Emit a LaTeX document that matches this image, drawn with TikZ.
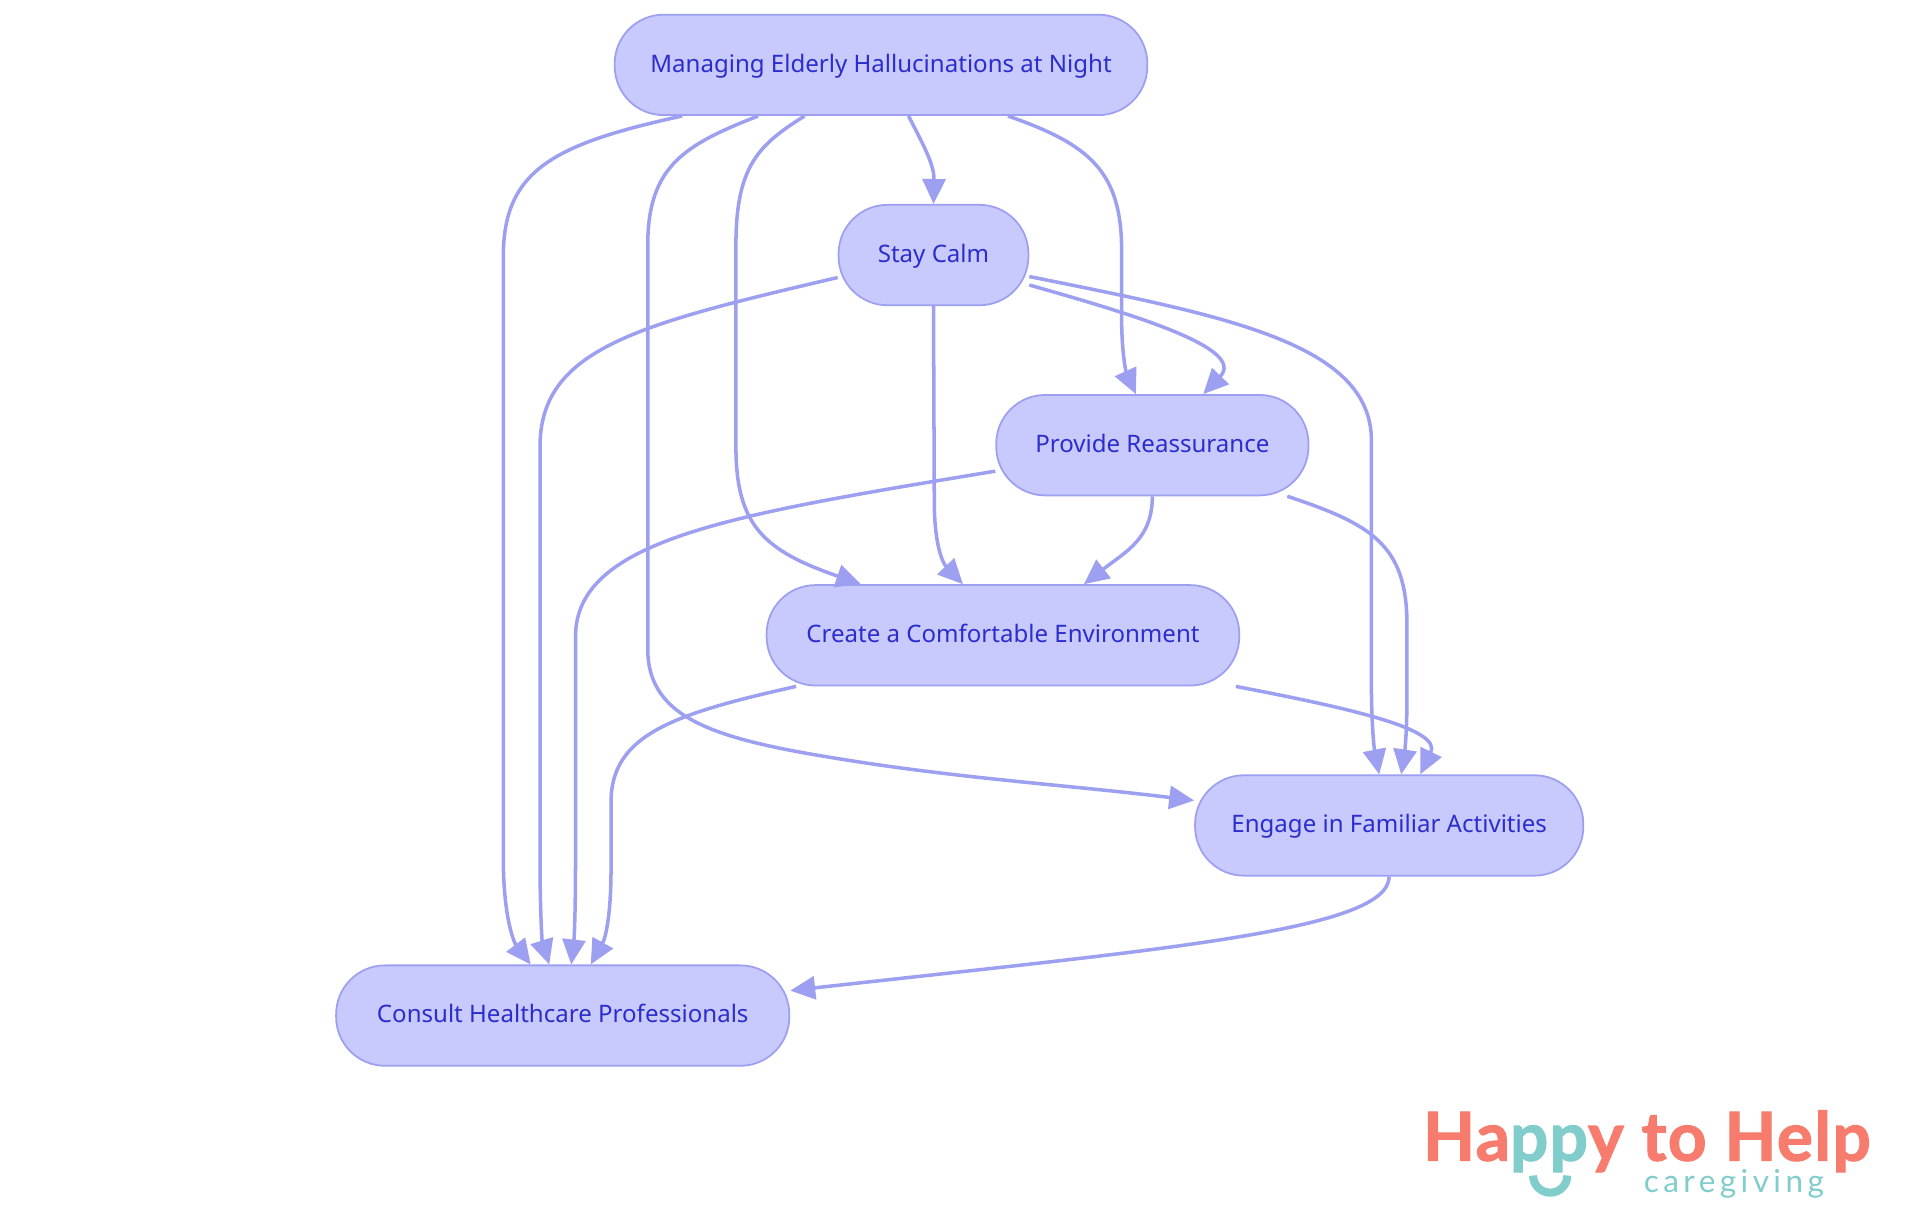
\documentclass[tikz,border=0pt]{standalone}
\usepackage{xcolor}
\usepackage{fontspec}
\setmainfont{Noto Sans}
\newfontfamily\logofont[LetterSpace=2, BoldFeatures={FakeBold=1.6}]{Lato}
\newfontfamily\logosub[LetterSpace=14]{Lato}
\usetikzlibrary{arrows.meta, positioning}
\definecolor{myfill}{RGB}{200,201,253}
\definecolor{myedge}{RGB}{157,160,241}
\definecolor{mytext}{RGB}{43,45,205}
\definecolor{mysalmon}{RGB}{247,124,110}
\definecolor{myteal}{RGB}{128,205,203}
\tikzset{
  careblock/.style={rectangle, draw=myedge, fill=myfill, text=mytext,
    minimum height=2.01cm, font=\fontsize{13.7}{16}\selectfont, text height=0.4cm, text depth=0.106cm,
    rounded corners=0.98cm, line width=1pt, inner sep=0pt},
  flow/.style={-{Triangle[length=0.5cm,width=0.46cm]}, line width=2pt, color=myedge}
}
\begin{document}
\begin{tikzpicture}[x=0.0245cm, y=-0.0245cm]
  \useasboundingbox (0,0) rectangle (1568,992);

  % Layers
  \node[careblock, minimum width=10.66cm] (manage) at (719.5,53) {Managing Elderly Hallucinations at Night};
  \node[careblock, minimum width=3.8cm, below=1.76cm of manage, xshift=1.05cm] (calm) {Stay Calm};
  \node[careblock, minimum width=6.25cm, below=1.76cm of calm, xshift=4.38cm] (reassure) {Provide Reassurance};
  \node[careblock, minimum width=9.46cm, below=1.76cm of reassure, xshift=-2.99cm] (comfort) {Create a Comfortable Environment};
  \node[careblock, minimum width=7.77cm, below=1.76cm of comfort, xshift=7.73cm] (engage) {Engage in Familiar Activities};
  \node[careblock, minimum width=9.07cm, below=1.76cm of engage, xshift=-16.54cm] (consult) {Consult Healthcare Professionals};

  % From the top node
  \draw[flow] ([xshift=-3.98cm]manage.south) .. controls (450,118) and (411,140) .. (411,210) -- (411,700)
    .. controls (411,750) and (420,770) .. ([xshift=-0.64cm]consult.north);
  \draw[flow] ([xshift=-2.46cm]manage.south) .. controls (560,118) and (529,135) .. (529,200) -- (529,530)
    .. controls (529,590) and (590,605) .. (700,622) .. controls (790,636) and (880,642) .. ([yshift=0.5cm]engage.west);
  \draw[flow] ([xshift=-1.53cm]manage.south) .. controls (620,118) and (601,135) .. (601,200) -- (601,365)
    .. controls (601,430) and (625,450) .. ([xshift=-2.84cm]comfort.north);
  \draw[flow] ([xshift=0.55cm]manage.south) .. controls (755,120) and (763,135) .. (calm.north);
  \draw[flow] ([xshift=2.54cm]manage.south) .. controls (890,118) and (916,140) .. (916,205) -- (916,260)
    .. controls (916,290) and (920,305) .. ([xshift=-0.33cm]reassure.north);

  % From Stay Calm
  \draw[flow] ([yshift=-0.45cm]calm.west) .. controls (520,265) and (441,285) .. (441,365) -- (441,700)
    .. controls (441,750) and (443,770) .. ([xshift=-0.27cm]consult.north);
  \draw[flow] (calm.south) -- (763,410) .. controls (763,445) and (770,460) .. ([xshift=-0.8cm]comfort.north);
  \draw[flow] ([yshift=-0.6cm]calm.east) .. controls (930,258) and (1018,285) .. ([xshift=1.02cm]reassure.north);
  \draw[flow] ([yshift=-0.43cm]calm.east) .. controls (1000,258) and (1120,280) .. (1120,360) -- (1120,560)
    .. controls (1120,590) and (1122,610) .. ([xshift=-0.2cm]engage.north);

  % From Provide Reassurance
  \draw[flow] ([yshift=-0.52cm]reassure.west) .. controls (600,420) and (470,440) .. (470,520) -- (470,700)
    .. controls (470,745) and (469,765) .. ([xshift=0.17cm]consult.north);
  \draw[flow] (reassure.south) .. controls (941,440) and (920,450) .. ([xshift=1.62cm]comfort.north);
  \draw[flow] ([xshift=2.7cm]reassure.south) .. controls (1120,428) and (1149,445) .. (1149,510) -- (1149,570)
    .. controls (1149,600) and (1147,615) .. ([xshift=0.24cm]engage.north);

  % From Create a Comfortable Environment
  \draw[flow] ([xshift=-4.14cm]comfort.south) .. controls (550,583) and (499,600) .. (499,655) -- (499,710)
    .. controls (499,745) and (495,765) .. ([xshift=0.56cm]consult.north);
  \draw[flow] ([xshift=4.66cm]comfort.south) .. controls (1100,578) and (1178,595) .. ([xshift=0.62cm]engage.north);

  % From Engage in Familiar Activities
  \draw[flow] (engage.south) .. controls (1134,760) and (950,775) .. ([yshift=0.5cm]consult.east);

  % Logo
  \node[font=\logofont\bfseries\fontsize{38.5}{44}\selectfont, color=mysalmon] (logo) at (1345,932)
    {Ha{\color{myteal}pp}y to Help};
  \node[font=\logosub\fontsize{18}{22}\selectfont, color=myteal, below=-0.3cm of logo, xshift=1.74cm] (logosub) {caregiving};
  \draw[myteal, line width=4.6pt] (1252,960) arc[start angle=180, end angle=0, radius=14];
\end{tikzpicture}
\end{document}
